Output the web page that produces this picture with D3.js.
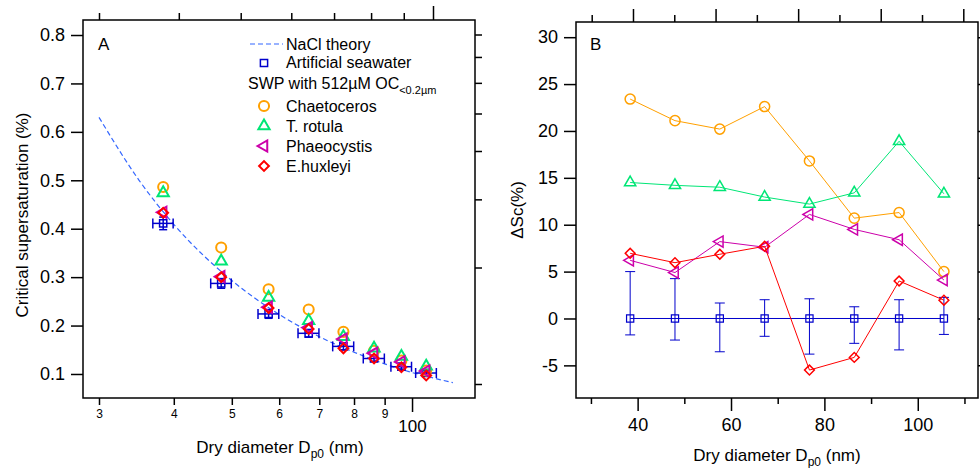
<!DOCTYPE html>
<html>
<head>
<meta charset="utf-8">
<script src="https://cdn.jsdelivr.net/npm/d3@7"></script>
<style>
body { margin: 0; background: #fff; }
text { font-family: "Liberation Sans", Arial, sans-serif; fill: #000; }
</style>
</head>
<body>
<script>
// dry diameters (nm) and their spread
const diameters = [38.4, 48.0, 57.6, 67.2, 76.8, 86.4, 96.0, 105.6]
const diameterErr = [1.5, 1.9, 2.3, 2.7, 3.1, 3.5, 3.8, 4.2]

// panel A: critical supersaturation (%)
const scSeawater = [0.411, 0.287, 0.224, 0.184, 0.157, 0.132, 0.115, 0.102]
const scSeawaterErr = [0.013, 0.010, 0.009, 0.008, 0.007, 0.006, 0.005, 0.005]
const scChaetoceros = [0.486, 0.361, 0.275, 0.233, 0.187, 0.148, 0.128, 0.107]
const scRotula = [0.474, 0.333, 0.258, 0.210, 0.177, 0.153, 0.136, 0.116]
const scPhaeocystis = [0.434, 0.301, 0.238, 0.196, 0.172, 0.143, 0.125, 0.106]
const scHuxleyi = [0.433, 0.300, 0.236, 0.193, 0.153, 0.132, 0.114, 0.097]

// NaCl theory curve
const naclD = [30, 35, 40, 50, 60, 70, 80, 90, 100, 110, 117]
const naclSc = [0.630, 0.500, 0.409, 0.293, 0.223, 0.177, 0.145, 0.121, 0.103, 0.090, 0.082]

// panel B: change in Sc relative to seawater (%)
const dscSeawater = [0, 0, 0, 0, 0, 0, 0, 0]
const dscErrUp = [5.0, 4.25, 1.65, 2.0, 2.1, 1.25, 2.0, 2.25]
const dscErrDown = [1.75, 2.3, 3.55, 1.9, 3.8, 2.65, 3.35, 1.7]
const dscChaetoceros = [23.4, 21.1, 20.2, 22.6, 16.8, 10.7, 11.3, 5.0]
const dscRotula = [14.5, 14.2, 14.0, 12.95, 12.2, 13.4, 18.9, 13.3]
const dscPhaeocystis = [6.2, 4.9, 8.2, 7.6, 11.1, 9.5, 8.4, 4.1]
const dscHuxleyi = [6.95, 5.95, 6.85, 7.7, -5.5, -4.15, 4.0, 1.95]

// ticks
const scTicks = [0.1, 0.2, 0.3, 0.4, 0.5, 0.6, 0.7, 0.8]
const logMinorTicks = [30, 40, 50, 60, 70, 80, 90]
const logMajorTicks = [100]
const rightTicksA = [1, 2, 3, 4, 5, 6, 7, 8]
const dscTicks = [-5, 0, 5, 10, 15, 20, 25, 30]
const dMajorTicks = [40, 60, 80, 100]
const dMinorTicks = [30, 50, 70, 90, 110]
const topTicksB = [30, 40, 50, 60, 70, 80, 90, 100, 110, 120]

const species = [
    {name: "Chaetoceros", a: scChaetoceros, b: dscChaetoceros, color: "#ffa000", shape: "circle"},
    {name: "T. rotula", a: scRotula, b: dscRotula, color: "#00e676", shape: "triangle"},
    {name: "Phaeocystis", a: scPhaeocystis, b: dscPhaeocystis, color: "#cc00aa", shape: "left"},
    {name: "E.huxleyi", a: scHuxleyi, b: dscHuxleyi, color: "#ff0000", shape: "diamond"}
]
const swColor = "#0000cc"

var svg = d3.select("body").append("svg").attr("width", 980).attr("height", 468)

function marker(g, shape, x, y, color, w) {
    var sym, rot = 0
    if (shape == "circle") sym = d3.symbol().type(d3.symbolCircle).size(80)
    if (shape == "triangle") sym = d3.symbol().type(d3.symbolTriangle).size(55)
    if (shape == "left") { sym = d3.symbol().type(d3.symbolTriangle).size(55); rot = -90 }
    if (shape == "diamond") { sym = d3.symbol().type(d3.symbolSquare).size(48); rot = 45 }
    if (shape == "square") sym = d3.symbol().type(d3.symbolSquare).size(52)
    g.append("path")
        .attr("d", sym())
        .attr("transform", "translate(" + x + "," + y + ") rotate(" + rot + ")")
        .attr("fill", "none")
        .attr("stroke", color)
        .attr("stroke-width", w)
}

function styleAxis(g, size) {
    g.select(".domain").remove()
    g.selectAll("line").attr("stroke", "#000").attr("stroke-width", 1.5)
    g.selectAll("text").attr("font-size", size).attr("font-family", "Liberation Sans, Arial, sans-serif")
}

// ---------------- Panel A ----------------
var xA = d3.scaleLog().domain([28.21, 127.4]).range([83, 475])
var yA = d3.scaleLinear().domain([0.0504, 0.831]).range([398, 20])
var topA = d3.scaleLog().domain([30, 100]).range([99, 433])
var rightA = d3.scaleLog().domain([1, 10]).range([384, -3])

var gA = svg.append("g")

gA.append("g").attr("transform", "translate(83,0)")
    .call(d3.axisLeft(yA).tickValues(scTicks).tickSize(12).tickPadding(6).tickFormat(d3.format(".1f")))
    .call(styleAxis, 18)

gA.append("g").attr("transform", "translate(0,398)")
    .call(d3.axisBottom(xA).tickValues(logMinorTicks).tickSize(7).tickPadding(4).tickFormat(d => d / 10))
    .call(styleAxis, 12)
gA.append("g").attr("transform", "translate(0,398)")
    .call(d3.axisBottom(xA).tickValues(logMajorTicks).tickSize(14).tickPadding(8).tickFormat(d => d))
    .call(styleAxis, 17)

gA.append("g").attr("transform", "translate(0,20)")
    .call(d3.axisTop(topA).tickValues(logMinorTicks).tickSize(7).tickFormat(""))
    .call(styleAxis, 10)
gA.append("g").attr("transform", "translate(0,20)")
    .call(d3.axisTop(topA).tickValues(logMajorTicks).tickSize(14).tickFormat(""))
    .call(styleAxis, 10)
gA.append("g").attr("transform", "translate(475,0)")
    .call(d3.axisRight(rightA).tickValues(rightTicksA).tickSize(7).tickFormat(""))
    .call(styleAxis, 10)

gA.append("rect").attr("x", 83).attr("y", 20).attr("width", 392).attr("height", 378)
    .attr("fill", "none").attr("stroke", "#000").attr("stroke-width", 1.5)

// theory line
var naclLine = d3.line().x((d, i) => xA(naclD[i])).y(d => yA(d)).curve(d3.curveMonotoneX)
gA.append("path").datum(naclSc).attr("d", naclLine)
    .attr("fill", "none").attr("stroke", "#3366ff").attr("stroke-width", 1.2)
    .attr("stroke-dasharray", "5,3")

// seawater with error bars
diameters.forEach(function(d, i) {
    var x = xA(d), y = yA(scSeawater[i])
    var x1 = xA(d - diameterErr[i]), x2 = xA(d + diameterErr[i])
    var y1 = yA(scSeawater[i] - scSeawaterErr[i]), y2 = yA(scSeawater[i] + scSeawaterErr[i])
    var eg = gA.append("g").attr("stroke", swColor).attr("stroke-width", 1.5)
    eg.append("line").attr("x1", x1).attr("x2", x2).attr("y1", y).attr("y2", y)
    eg.append("line").attr("x1", x1).attr("x2", x1).attr("y1", y - 5).attr("y2", y + 5)
    eg.append("line").attr("x1", x2).attr("x2", x2).attr("y1", y - 5).attr("y2", y + 5)
    eg.append("line").attr("x1", x).attr("x2", x).attr("y1", y1).attr("y2", y2)
    eg.append("line").attr("x1", x - 4).attr("x2", x + 4).attr("y1", y1).attr("y2", y1)
    eg.append("line").attr("x1", x - 4).attr("x2", x + 4).attr("y1", y2).attr("y2", y2)
    marker(gA, "square", x, y, swColor, 1.5)
})

species.forEach(function(s) {
    diameters.forEach(function(d, i) {
        marker(gA, s.shape, xA(d), yA(s.a[i]), s.color, 2)
    })
})

gA.append("text").attr("x", 98).attr("y", 50).attr("font-size", 17).text("A")

// legend
var lg = gA.append("g")
lg.append("line").attr("x1", 250).attr("x2", 283).attr("y1", 44).attr("y2", 44)
    .attr("stroke", "#3366ff").attr("stroke-width", 1.2).attr("stroke-dasharray", "5,3")
lg.append("text").attr("x", 286).attr("y", 50).attr("font-size", 16).text("NaCl theory")
marker(lg, "square", 264, 63, swColor, 1.5)
lg.append("text").attr("x", 286).attr("y", 68).attr("font-size", 16).text("Artificial seawater")
var swp = lg.append("text").attr("x", 248).attr("y", 89).attr("font-size", 16)
swp.append("tspan").text("SWP with 512\u00b5M OC")
swp.append("tspan").attr("font-size", 11).attr("dy", 5).text("<0.2\u00b5m")
species.forEach(function(s, i) {
    var y = 106 + i * 20
    marker(lg, s.shape, 264, y, s.color, 2)
    lg.append("text").attr("x", 286).attr("y", y + 6).attr("font-size", 16).text(s.name)
})

var tA = gA.append("text").attr("x", 280).attr("y", 453).attr("font-size", 17).attr("text-anchor", "middle")
tA.append("tspan").text("Dry diameter D")
tA.append("tspan").attr("font-size", 12).attr("dy", 5).text("p0")
tA.append("tspan").attr("dy", -5).text(" (nm)")

gA.append("text").attr("transform", "translate(28,215) rotate(-90)")
    .attr("font-size", 17).attr("text-anchor", "middle").text("Critical supersaturation (%)")

// ---------------- Panel B ----------------
var xB = d3.scaleLinear().domain([26.8, 112.9]).range([576, 978])
var yB = d3.scaleLinear().domain([-8.48, 31.62]).range([398, 22])
var topB = d3.scaleLinear().domain([30, 120]).range([591.7, 963.3])

var gB = svg.append("g")

gB.append("g").attr("transform", "translate(576,0)")
    .call(d3.axisLeft(yB).tickValues(dscTicks).tickSize(12).tickPadding(6).tickFormat(d => String(d)))
    .call(styleAxis, 18)
gB.append("g").attr("transform", "translate(978,0)")
    .call(d3.axisRight(yB).tickValues(dscTicks).tickSize(7).tickFormat(""))
    .call(styleAxis, 10)
gB.append("g").attr("transform", "translate(0,398)")
    .call(d3.axisBottom(xB).tickValues(dMajorTicks).tickSize(13).tickPadding(7))
    .call(styleAxis, 18)
gB.append("g").attr("transform", "translate(0,398)")
    .call(d3.axisBottom(xB).tickValues(dMinorTicks).tickSize(6).tickFormat(""))
    .call(styleAxis, 10)
gB.append("g").attr("transform", "translate(0,22)")
    .call(d3.axisTop(topB).tickValues(topTicksB.filter(v => v % 20 == 0)).tickSize(13).tickFormat(""))
    .call(styleAxis, 10)
gB.append("g").attr("transform", "translate(0,22)")
    .call(d3.axisTop(topB).tickValues(topTicksB.filter(v => v % 20 != 0)).tickSize(7).tickFormat(""))
    .call(styleAxis, 10)

gB.append("rect").attr("x", 576).attr("y", 22).attr("width", 402).attr("height", 376)
    .attr("fill", "none").attr("stroke", "#000").attr("stroke-width", 1.5)

var lineB = d3.line().x((d, i) => xB(diameters[i])).y(d => yB(d))

// seawater baseline with error bars
gB.append("path").datum(dscSeawater).attr("d", lineB)
    .attr("fill", "none").attr("stroke", swColor).attr("stroke-width", 1)
diameters.forEach(function(d, i) {
    var x = xB(d)
    var y1 = yB(dscSeawater[i] - dscErrDown[i]), y2 = yB(dscSeawater[i] + dscErrUp[i])
    var eg = gB.append("g").attr("stroke", swColor).attr("stroke-width", 1)
    eg.append("line").attr("x1", x).attr("x2", x).attr("y1", y1).attr("y2", y2)
    eg.append("line").attr("x1", x - 5).attr("x2", x + 5).attr("y1", y1).attr("y2", y1)
    eg.append("line").attr("x1", x - 5).attr("x2", x + 5).attr("y1", y2).attr("y2", y2)
    marker(gB, "square", x, yB(dscSeawater[i]), swColor, 1.2)
})

species.forEach(function(s) {
    gB.append("path").datum(s.b).attr("d", lineB)
        .attr("fill", "none").attr("stroke", s.color).attr("stroke-width", 1)
    diameters.forEach(function(d, i) {
        marker(gB, s.shape, xB(d), yB(s.b[i]), s.color, 1.5)
    })
})

gB.append("text").attr("x", 590).attr("y", 50).attr("font-size", 17).text("B")

var tB = gB.append("text").attr("x", 777).attr("y", 461).attr("font-size", 17).attr("text-anchor", "middle")
tB.append("tspan").text("Dry diameter D")
tB.append("tspan").attr("font-size", 12).attr("dy", 5).text("p0")
tB.append("tspan").attr("dy", -5).text(" (nm)")

gB.append("text").attr("transform", "translate(523,210) rotate(-90)")
    .attr("font-size", 17).attr("text-anchor", "middle").text("\u0394Sc(%)")
</script>
</body>
</html>
